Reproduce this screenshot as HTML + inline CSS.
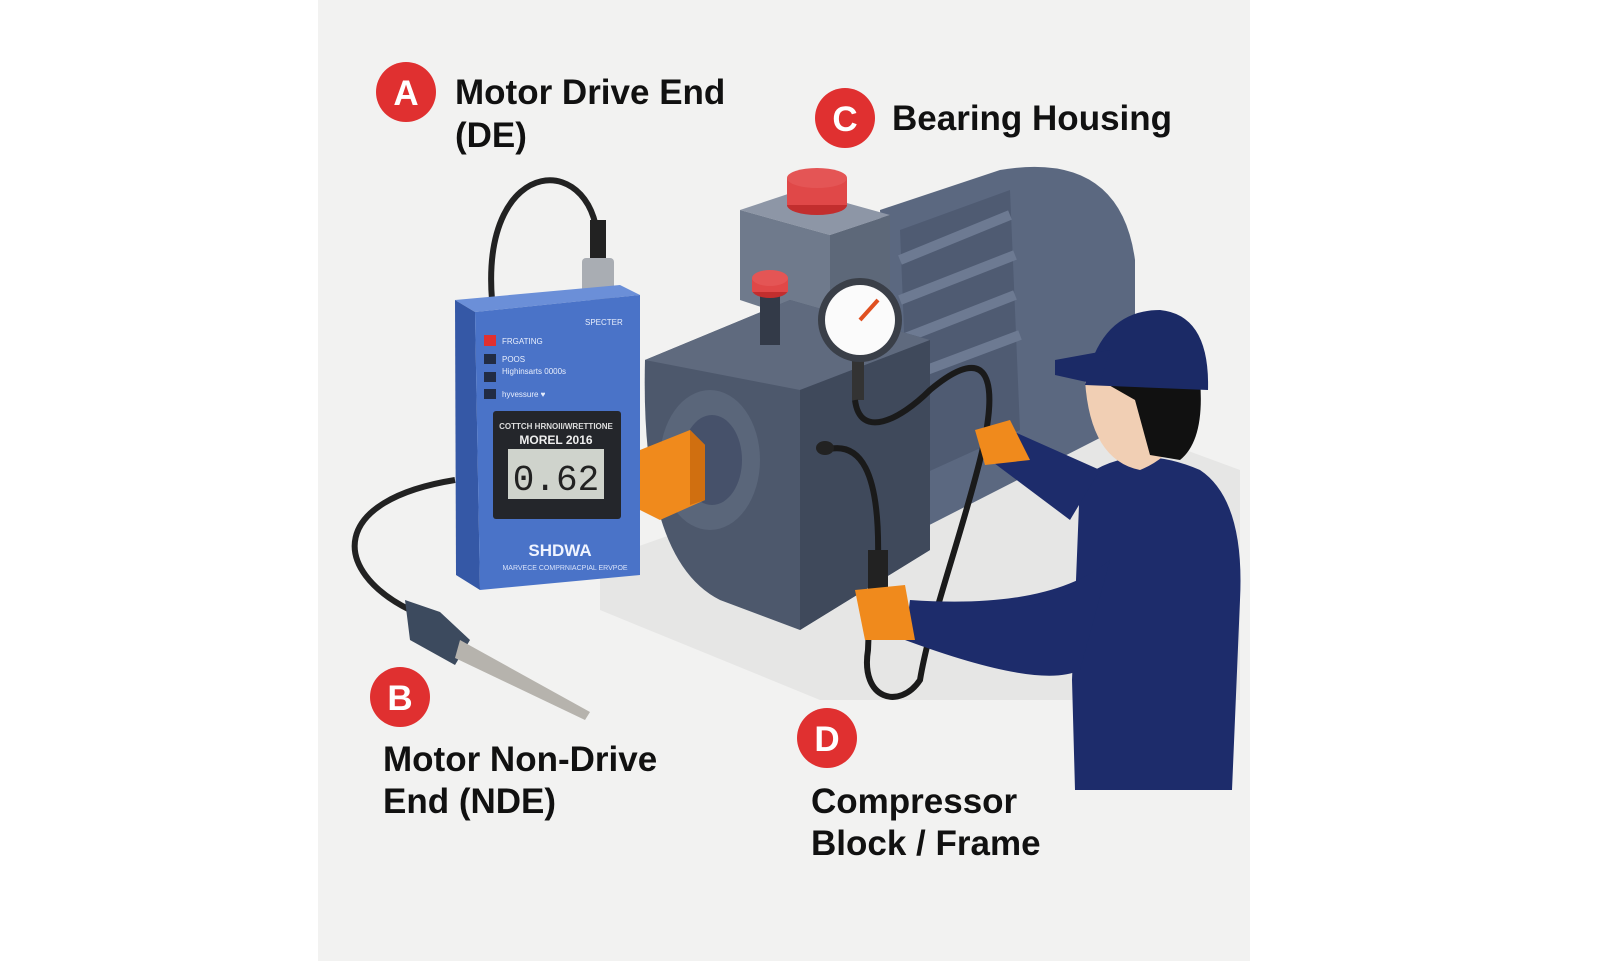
<!DOCTYPE html>
<html><head><meta charset="utf-8"><style>
html,body{margin:0;padding:0;background:#fff;}
svg{display:block;font-family:"Liberation Sans",sans-serif;}
</style></head><body>
<svg width="1616" height="961" viewBox="0 0 1616 961" xmlns="http://www.w3.org/2000/svg">
<rect x="0" y="0" width="1616" height="961" fill="#fff"/>
<rect x="318" y="0" width="932" height="961" fill="#f2f2f1"/>
<polygon points="600,560 1050,400 1240,470 1240,700 820,700 600,610" fill="#e6e6e5"/>
<path d="M880,210 L1000,170 Q1120,150 1135,260 L1135,420 L900,540 Z" fill="#5b6880"/>
<path d="M900,230 L1010,190 L1020,430 L910,480 Z" fill="#4f5b72"/>
<g stroke="#6d7a92" stroke-width="10">
<line x1="900" y1="260" x2="1010" y2="215"/><line x1="900" y1="300" x2="1015" y2="255"/>
<line x1="900" y1="340" x2="1015" y2="295"/><line x1="900" y1="380" x2="1020" y2="335"/>
</g>
<polygon points="740,210 800,190 890,215 830,235" fill="#8d96a6"/>
<polygon points="740,210 830,235 830,330 740,300" fill="#6f7a8c"/>
<polygon points="830,235 890,215 890,310 830,330" fill="#5d6879"/>
<ellipse cx="817" cy="205" rx="30" ry="10" fill="#c22e2e"/>
<rect x="787" y="178" width="60" height="27" fill="#e04848"/>
<ellipse cx="817" cy="178" rx="30" ry="10" fill="#e45555"/>
<path d="M645,360 L790,300 L930,340 L930,550 L800,630 L720,600 Q640,560 645,360 Z" fill="#4d586c"/>
<path d="M645,360 L790,300 L930,340 L800,390 Z" fill="#5f6a7e"/>
<path d="M800,390 L930,340 L930,550 L800,630 Z" fill="#3f495b"/>
<ellipse cx="710" cy="460" rx="50" ry="70" fill="#5a667a"/>
<ellipse cx="712" cy="460" rx="30" ry="45" fill="#46516a"/>
<rect x="760" y="290" width="20" height="55" fill="#333a48"/>
<ellipse cx="770" cy="290" rx="18" ry="8" fill="#c22e2e"/>
<rect x="752" y="278" width="36" height="14" fill="#e04848"/>
<ellipse cx="770" cy="278" rx="18" ry="8" fill="#e45555"/>
<rect x="852" y="360" width="12" height="40" fill="#333"/>
<circle cx="860" cy="320" r="42" fill="#3a3f48"/>
<circle cx="860" cy="320" r="35" fill="#fbfbfb"/>
<line x1="860" y1="320" x2="878" y2="300" stroke="#e05020" stroke-width="4"/>
<path d="M640,450 L690,430 L705,445 L705,500 L660,520 L640,510 Z" fill="#f08a1c"/>
<path d="M690,430 L705,445 L705,500 L690,505 Z" fill="#d06f10"/>
<path d="M492,300 C480,150 600,150 598,250" stroke="#222" stroke-width="6" fill="none"/>
<rect x="590" y="220" width="16" height="40" fill="#222"/>
<rect x="582" y="258" width="32" height="42" rx="4" fill="#a9adb3"/>
<path d="M455,480 C330,500 330,570 410,610" stroke="#222" stroke-width="6" fill="none"/>
<path d="M855,400 C860,440 900,420 930,390 C990,340 1000,380 980,460 C960,540 930,620 920,680 C900,710 860,700 868,650 L870,600" stroke="#1a1a1a" stroke-width="6" fill="none"/>
<path d="M825,450 C860,440 880,470 878,560" stroke="#1a1a1a" stroke-width="6" fill="none"/>
<rect x="868" y="550" width="20" height="40" fill="#222"/>
<ellipse cx="825" cy="448" rx="9" ry="7" fill="#222"/>
<polygon points="405,600 440,612 470,640 455,665 410,640" fill="#3c4a5e"/>
<polygon points="460,640 590,712 585,720 455,658" fill="#b6b3ad"/>
<polygon points="455,300 620,285 640,295 475,312" fill="#6b8fd8"/>
<polygon points="455,300 475,312 480,590 456,575" fill="#3558a6"/>
<polygon points="475,312 640,295 640,575 480,590" fill="#4a73c8"/>
<rect x="484" y="335" width="12" height="11" fill="#e03030"/>
<rect x="484" y="354" width="12" height="10" fill="#222c44"/>
<rect x="484" y="372" width="12" height="10" fill="#222c44"/>
<rect x="484" y="389" width="12" height="10" fill="#222c44"/>
<g fill="#e8eefc" font-size="8"><text x="502" y="344">FRGATING</text><text x="502" y="362">POOS</text><text x="502" y="374">Highinsarts 0000s</text><text x="502" y="397">hyvessure ♥</text><text x="585" y="325">SPECTER</text></g>
<rect x="493" y="411" width="128" height="108" rx="3" fill="#24262b"/>
<text x="556" y="429" fill="#ddd" font-size="8" font-weight="bold" text-anchor="middle">COTTCH HRNOII/WRETTIONE</text>
<text x="556" y="444" fill="#eee" font-size="12" font-weight="bold" text-anchor="middle">MOREL 2016</text>
<rect x="508" y="449" width="96" height="50" fill="#cfd3cc"/>
<text x="556" y="490" fill="#222" font-size="36" font-family="Liberation Mono,monospace" text-anchor="middle">0.62</text>
<text x="560" y="556" fill="#f0f4ff" font-size="17" font-weight="bold" text-anchor="middle">SHDWA</text>
<text x="565" y="570" fill="#d8e2fa" font-size="7" text-anchor="middle">MARVECE COMPRNIACPIAL ERVPOE</text>
<path d="M1080,480 Q1130,440 1200,470 Q1245,500 1240,600 L1232,790 L1075,790 L1072,680 Z" fill="#1d2c6b"/>
<path d="M1100,470 L1010,430 L990,460 L1070,520 Z" fill="#1d2c6b"/>
<path d="M1110,560 Q1050,610 910,600 L905,640 Q1040,690 1080,670 Z" fill="#1d2c6b"/>
<path d="M1085,380 Q1090,460 1140,470 Q1190,450 1200,380 Z" fill="#f1cfb4"/>
<path d="M1100,380 L1200,380 Q1205,440 1180,460 L1150,455 L1135,400 Z" fill="#111"/>
<path d="M1085,385 Q1100,310 1160,310 Q1210,315 1208,390 Z" fill="#1b2a66"/>
<path d="M1055,360 L1110,350 L1100,385 L1055,375 Z" fill="#1b2a66"/>
<path d="M975,430 L1010,420 L1030,460 L985,465 Z" fill="#f08a1c"/>
<path d="M855,590 L905,585 L915,640 L865,640 Z" fill="#f08a1c"/>
<g font-size="35" fill="#111" font-weight="bold">
<circle cx="406" cy="92" r="30" fill="#e03030"/><text x="406" y="105" fill="#fff" text-anchor="middle">A</text>
<text x="455" y="104">Motor Drive End</text><text x="455" y="147">(DE)</text>
<circle cx="845" cy="118" r="30" fill="#e03030"/><text x="845" y="131" fill="#fff" text-anchor="middle">C</text>
<text x="892" y="130">Bearing Housing</text>
<circle cx="400" cy="697" r="30" fill="#e03030"/><text x="400" y="710" fill="#fff" text-anchor="middle">B</text>
<text x="383" y="771">Motor Non-Drive</text><text x="383" y="813">End (NDE)</text>
<circle cx="827" cy="738" r="30" fill="#e03030"/><text x="827" y="751" fill="#fff" text-anchor="middle">D</text>
<text x="811" y="813">Compressor</text><text x="811" y="855">Block / Frame</text>
</g>
</svg>
</body></html>
